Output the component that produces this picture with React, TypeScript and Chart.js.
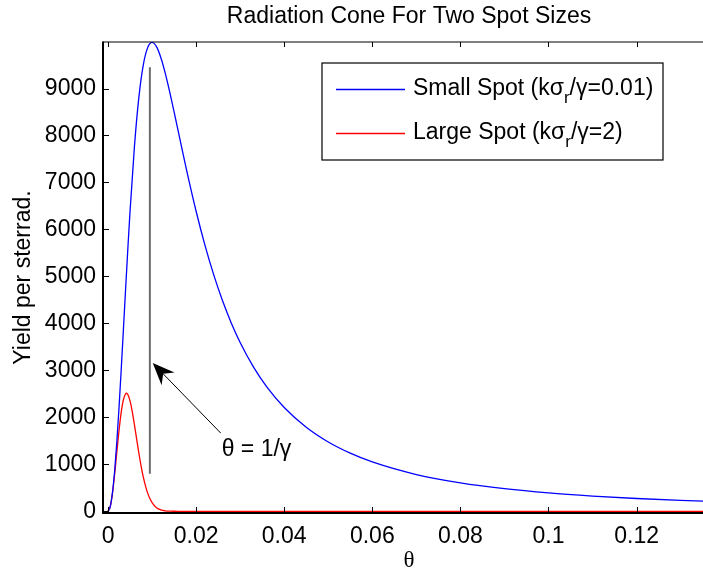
import React, { useEffect, useRef } from "react";
import { Chart, registerables } from "chart.js";

Chart.register(...registerables);

const TITLE = "Radiation Cone For Two Spot Sizes";
const X_LABEL = "θ";
const Y_LABEL = "Yield per sterrad.";

// Small spot (kσr/γ = 0.01) — blue curve
const THETA_SMALL = [
  0, 0.0005, 0.001, 0.0015, 0.002, 0.0025, 0.003, 0.0035, 0.004, 0.0045, 0.005,
  0.006, 0.007, 0.008, 0.009, 0.01, 0.011, 0.012, 0.013, 0.014, 0.015, 0.016, 0.017, 0.018,
  0.02, 0.022, 0.024, 0.026, 0.028, 0.03, 0.033, 0.036,
  0.04, 0.045, 0.05, 0.055, 0.06,
  0.07, 0.08, 0.09, 0.1, 0.11, 0.12, 0.13, 0.14,
];
const YIELD_SMALL = [
  0, 99, 391, 859, 1476, 2210, 3024, 3881, 4747, 5590, 6387,
  7770, 8811, 9499, 9870, 9980, 9890, 9655, 9323, 8930, 8504, 8064, 7624, 7195,
  6387, 5665, 5032, 4481, 4005, 3593, 3075, 2655,
  2210, 1790, 1476, 1237, 1050,
  782, 605, 481, 391, 325, 273, 233, 202,
];

// Large spot (kσr/γ = 2) — red curve
const THETA_LARGE = [
  0, 0.0005, 0.001, 0.0015, 0.002, 0.0025, 0.003, 0.0035, 0.004, 0.0042,
  0.0045, 0.005, 0.0055, 0.006, 0.0065, 0.007, 0.0075, 0.008,
  0.009, 0.01, 0.011, 0.012, 0.013, 0.014, 0.015, 0.016, 0.02, 0.14,
];
const YIELD_LARGE = [
  0, 98, 376, 785, 1258, 1721, 2110, 2378, 2503, 2513,
  2487, 2350, 2123, 1841, 1538, 1241, 969, 734,
  387, 183, 78, 30, 11, 4, 1, 0, 0, 0,
];

const X_TICKS = [0, 0.02, 0.04, 0.06, 0.08, 0.1, 0.12];
const X_TICK_LABELS = ["0", "0.02", "0.04", "0.06", "0.08", "0.1", "0.12"];
const Y_TICKS = [0, 1000, 2000, 3000, 4000, 5000, 6000, 7000, 8000, 9000];
const Y_TICK_LABELS = ["0", "1000", "2000", "3000", "4000", "5000", "6000", "7000", "8000", "9000"];

const X_MIN = -0.00114;
const X_MAX = 0.1378;
const Y_MIN = -36;
const Y_MAX = 9990;

// Annotation (data coordinates)
const GUIDE_THETA = 0.0095;
const GUIDE_FROM = 800;
const GUIDE_TO = 9450;
const ARROW_TIP = [0.01015, 3155];
const ARROW_TAIL = [0.02558, 1666];
const ARROW_TEXT = "θ = 1/γ";
const ARROW_TEXT_AT = [0.0258, 1177];

const LEGEND_ITEMS = [
  { pre: "Small Spot (kσ", sub: "r", post: "/γ=0.01)", color: "#0000ff" },
  { pre: "Large Spot (kσ", sub: "r", post: "/γ=2)", color: "#ff0000" },
];

const FONT = '"Liberation Sans", Arial, Helvetica, sans-serif';
const FS = 23;
const CANVAS_W = 730;
const CANVAS_H = 571;

const overlayPlugin = {
  id: "overlay",
  afterDatasetsDraw(chart: any) {
    const { ctx, chartArea: a, scales } = chart;
    const xs = scales.x;
    const ys = scales.y;
    ctx.save();

    // guide line at θ = 1/γ
    const gx = xs.getPixelForValue(GUIDE_THETA);
    ctx.strokeStyle = "#6b6b6b";
    ctx.lineWidth = 2;
    ctx.beginPath();
    ctx.moveTo(gx, ys.getPixelForValue(GUIDE_TO));
    ctx.lineTo(gx, ys.getPixelForValue(GUIDE_FROM));
    ctx.stroke();

    // arrow
    const tx = xs.getPixelForValue(ARROW_TIP[0]);
    const ty = ys.getPixelForValue(ARROW_TIP[1]);
    const sx = xs.getPixelForValue(ARROW_TAIL[0]);
    const sy = ys.getPixelForValue(ARROW_TAIL[1]);
    const len = Math.hypot(sx - tx, sy - ty);
    const dx = (sx - tx) / len;
    const dy = (sy - ty) / len;
    const nx = -dy;
    const ny = dx;
    const headL = 22;
    const headW = 9;
    const notch = 15;
    ctx.strokeStyle = "#000";
    ctx.lineWidth = 1;
    ctx.beginPath();
    ctx.moveTo(sx, sy);
    ctx.lineTo(tx + dx * notch, ty + dy * notch);
    ctx.stroke();
    ctx.fillStyle = "#000";
    ctx.beginPath();
    ctx.moveTo(tx, ty);
    ctx.lineTo(tx + dx * headL + nx * headW, ty + dy * headL + ny * headW);
    ctx.lineTo(tx + dx * notch, ty + dy * notch);
    ctx.lineTo(tx + dx * headL - nx * headW, ty + dy * headL - ny * headW);
    ctx.closePath();
    ctx.fill();

    // annotation text
    ctx.font = `${FS}px ${FONT}`;
    ctx.textAlign = "left";
    ctx.textBaseline = "alphabetic";
    ctx.fillText(ARROW_TEXT, xs.getPixelForValue(ARROW_TEXT_AT[0]), ys.getPixelForValue(ARROW_TEXT_AT[1]));

    // axes box
    ctx.strokeStyle = "#000";
    ctx.lineWidth = 1.2;
    ctx.beginPath();
    ctx.moveTo(a.left, a.top);
    ctx.lineTo(a.right, a.top);
    ctx.stroke();
    ctx.lineWidth = 2;
    ctx.beginPath();
    ctx.moveTo(a.left, a.top - 0.6);
    ctx.lineTo(a.left, a.bottom);
    ctx.lineTo(a.right, a.bottom);
    ctx.stroke();

    // inward tick marks
    ctx.lineWidth = 1;
    ctx.beginPath();
    X_TICKS.forEach((v) => {
      const px = Math.round(xs.getPixelForValue(v)) + 0.5;
      ctx.moveTo(px, a.bottom);
      ctx.lineTo(px, a.bottom - 6);
      ctx.moveTo(px, a.top);
      ctx.lineTo(px, a.top + 5);
    });
    Y_TICKS.forEach((v) => {
      const py = Math.round(ys.getPixelForValue(v)) + 0.5;
      ctx.moveTo(a.left, py);
      ctx.lineTo(a.left + 6, py);
    });
    ctx.stroke();

    // legend
    const lx = a.left + 219;
    const ly = a.top + 21;
    const lw = 341;
    const lh = 97;
    ctx.fillStyle = "#fff";
    ctx.fillRect(lx, ly, lw, lh);
    ctx.strokeStyle = "#000";
    ctx.lineWidth = 1.2;
    ctx.strokeRect(lx, ly, lw, lh);
    LEGEND_ITEMS.forEach((item, i) => {
      const rowY = ly + 26.5 + i * 44;
      ctx.strokeStyle = item.color;
      ctx.lineWidth = 1.3;
      ctx.beginPath();
      ctx.moveTo(lx + 14, rowY);
      ctx.lineTo(lx + 83, rowY);
      ctx.stroke();
      ctx.fillStyle = "#000";
      ctx.textAlign = "left";
      ctx.textBaseline = "alphabetic";
      const base = rowY + 5;
      let cx = lx + 91;
      ctx.font = `${FS}px ${FONT}`;
      ctx.fillText(item.pre, cx, base);
      cx += ctx.measureText(item.pre).width;
      ctx.font = `17px ${FONT}`;
      ctx.fillText(item.sub, cx, base + 8);
      cx += ctx.measureText(item.sub).width;
      ctx.font = `${FS}px ${FONT}`;
      ctx.fillText(item.post, cx, base);
    });

    ctx.restore();
  },
};

export default function App() {
  const canvasRef = useRef<HTMLCanvasElement | null>(null);

  useEffect(() => {
    const canvas = canvasRef.current;
    if (!canvas) return;
    const chart = new Chart(canvas, {
      type: "line",
      data: {
        datasets: [
          {
            label: "Small Spot",
            data: THETA_SMALL.map((t, i) => ({ x: t, y: YIELD_SMALL[i] })),
            borderColor: "#0000ff",
            borderWidth: 1.3,
            pointRadius: 0,
            cubicInterpolationMode: "monotone",
            fill: false,
          },
          {
            label: "Large Spot",
            data: THETA_LARGE.map((t, i) => ({ x: t, y: YIELD_LARGE[i] })),
            borderColor: "#ff0000",
            borderWidth: 1.3,
            pointRadius: 0,
            cubicInterpolationMode: "monotone",
            fill: false,
          },
        ],
      },
      options: {
        responsive: false,
        animation: false,
        devicePixelRatio: 1,
        layout: { padding: { left: 0, right: CANVAS_W - 715, top: 0, bottom: 0 } },
        plugins: {
          legend: { display: false },
          tooltip: { enabled: false },
          title: {
            display: true,
            text: TITLE,
            fullSize: false,
            color: "#000",
            font: { family: FONT, size: FS, weight: "normal" },
            padding: { top: 2.5, bottom: 11.9 },
          },
        },
        scales: {
          x: {
            type: "linear",
            min: X_MIN,
            max: X_MAX,
            afterBuildTicks: (s: any) => {
              s.ticks = X_TICKS.map((v) => ({ value: v }));
            },
            afterFit: (s: any) => {
              s.height = CANVAS_H - 513;
            },
            ticks: {
              autoSkip: false,
              maxRotation: 0,
              minRotation: 0,
              padding: 9.4,
              color: "#000",
              font: { family: FONT, size: FS },
              callback: (_v: any, i: number) => X_TICK_LABELS[i],
            },
            grid: { display: false, drawTicks: false },
            border: { display: false },
            title: {
              display: true,
              text: X_LABEL,
              color: "#000",
              font: { family: '"Liberation Serif", "Times New Roman", serif', size: FS },
              padding: { top: 0, bottom: -3.6 },
            },
          },
          y: {
            type: "linear",
            min: Y_MIN,
            max: Y_MAX,
            afterBuildTicks: (s: any) => {
              s.ticks = Y_TICKS.map((v) => ({ value: v }));
            },
            afterFit: (s: any) => {
              s.width = 103;
            },
            ticks: {
              autoSkip: false,
              padding: 7,
              color: "#000",
              font: { family: FONT, size: FS },
              callback: (_v: any, i: number) => Y_TICK_LABELS[i],
            },
            grid: { display: false, drawTicks: false },
            border: { display: false },
            title: {
              display: true,
              text: Y_LABEL,
              color: "#000",
              font: { family: FONT, size: FS },
              padding: { top: 9.4, bottom: 0 },
            },
          },
        },
      },
      plugins: [overlayPlugin],
    } as any);
    return () => chart.destroy();
  }, []);

  return (
    <div
      style={{
        position: "absolute",
        left: 0,
        top: 0,
        width: 703,
        height: 571,
        overflow: "hidden",
        background: "#fff",
      }}
    >
      <canvas
        ref={canvasRef}
        width={CANVAS_W}
        height={CANVAS_H}
        style={{ display: "block", width: CANVAS_W, height: CANVAS_H }}
      />
    </div>
  );
}
